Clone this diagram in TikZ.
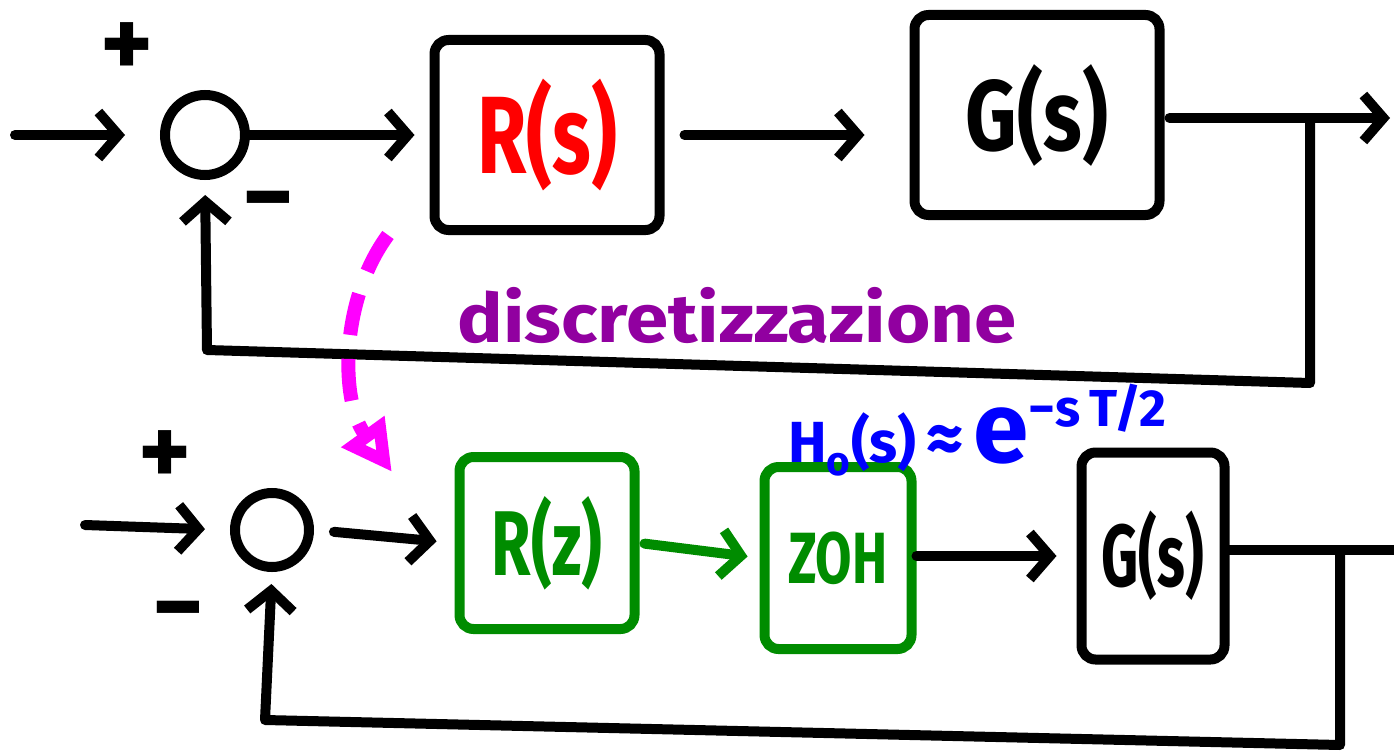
\documentclass[tikz,border=0pt]{standalone}
\usepackage{fontspec}
\setmainfont{Fira Sans}
\usetikzlibrary{arrows.meta,calc}
\definecolor{hred}{RGB}{255,0,0}
\definecolor{hgreen}{RGB}{0,140,0}
\definecolor{hblue}{RGB}{0,0,255}
\definecolor{hmag}{RGB}{255,0,255}
\definecolor{hpurp}{RGB}{145,0,160}
\begin{document}
\begin{tikzpicture}[x=1pt,y=-1pt,
  ln/.style={line width=10pt, line cap=round, line join=round},
  arr/.style={ln, -{Straight Barb[length=20pt,width=46pt]}},
  blk/.style={draw, line width=10pt, rounded corners=14pt, inner sep=0pt},
  sumc/.style={draw, circle, line width=10pt, inner sep=0pt},
  big/.style={font=\fontsize{100}{100}\selectfont\bfseries},
  mid/.style={font=\fontsize{80}{80}\selectfont\bfseries},
  sign/.style={font=\fontsize{100}{100}\selectfont\bfseries},
]
\useasboundingbox (0,0) rectangle (1394,752);

% ---------- top loop ----------
\node[sumc, minimum size=80pt] (s1) at (205,135) {};
\node[blk, minimum width=225pt, minimum height=190pt, text=hred, big] (R) at (547,135) {\scalebox{0.8}[1.1]{R(s)}};
\node[blk, minimum width=245pt, minimum height=200pt, big] (G) at (1037,115) {\scalebox{0.8}[1.0]{G(s)}};
\node[sign] (p1) at (127,50) {+};
\node[sign] (m1) at (268,211) {−};

\coordinate (in1) at (15,135);
\coordinate (out1) at (1390,118);
\coordinate (b1) at (1310,118);
\coordinate (f1a) at (1310,383);
\coordinate (f1b) at (207,350);

\draw[arr, shorten >=35pt] (in1) -- (s1.west);
\draw[arr, shorten >=15pt] (s1.east) -- (R.west);
\draw[arr, shorten <=20pt, shorten >=45pt] (R.east) -- (R.east -| G.west);
\draw[arr, shorten <=5pt] (G.east |- out1) -- (out1);
\draw[arr, shorten >=15pt] (b1) -- (f1a) -- (f1b) -- (s1.south);

% ---------- discretisation ----------
\node[text=hpurp, font=\fontsize{68}{68}\selectfont\bfseries] (disc) at (737,316) {\scalebox{1.12}[1]{discretizzazione}};
\coordinate (d1) at (388,235);
\coordinate (d2) at (392,472);
\draw[hmag, line width=14pt, dash pattern=on 42pt off 24pt,
      -{Triangle[open, length=50pt, width=50pt]}]
  (d1) .. controls (340,300) and (340,400) .. (d2);

% ---------- bottom loop ----------
\node[sumc, minimum size=74pt] (s2) at (272,530) {};
\node[blk, draw=hgreen, minimum width=175pt, minimum height=172pt, text=hgreen, mid] (Rz) at (547,543) {\scalebox{0.8}[1.15]{R(z)}};
\node[blk, draw=hgreen, minimum width=147pt, minimum height=182pt, text=hgreen, font=\fontsize{66}{66}\selectfont\bfseries] (Z) at (838,558) {\scalebox{0.8}[1.1]{ZOH}};
\node[blk, minimum width=143pt, minimum height=207pt, mid] (G2) at (1153,556) {\scalebox{0.72}[1.1]{G(s)}};
\node[sign] (p2) at (165,458) {+};
\node[sign] (m2) at (178,621) {−};

\node[text=hblue, anchor=base west, inner sep=0pt] (H) at (788,462)
  {\fontsize{58}{58}\selectfont\bfseries H\textsubscript{o}(s)\,{\fontsize{72}{72}\selectfont ≈}\,{\fontsize{100}{100}\selectfont e}\raisebox{36pt}{\fontsize{52}{52}\selectfont −s\,T/2}};

\coordinate (in2) at (85,525);
\coordinate (out2) at (1394,550);
\coordinate (b2) at (1340,550);
\coordinate (f2a) at (1340,745);
\coordinate (f2b) at (265,720);

\draw[arr, shorten >=25pt] (in2) -- (s2.west);
\draw[arr, shorten <=20pt, shorten >=18pt] (s2.east) -- (Rz.west);
\draw[arr, hgreen, shorten <=5pt, shorten >=12pt] (Rz.east) -- (Z.west);
\draw[arr, shorten >=20pt] (Z.east |- G2.west) -- (G2.west);
\draw[ln] (G2.east |- out2) -- (out2);
\draw[arr, shorten >=12pt] (b2) -- (f2a) -- (f2b) -- (s2.south);
\end{tikzpicture}
\end{document}
